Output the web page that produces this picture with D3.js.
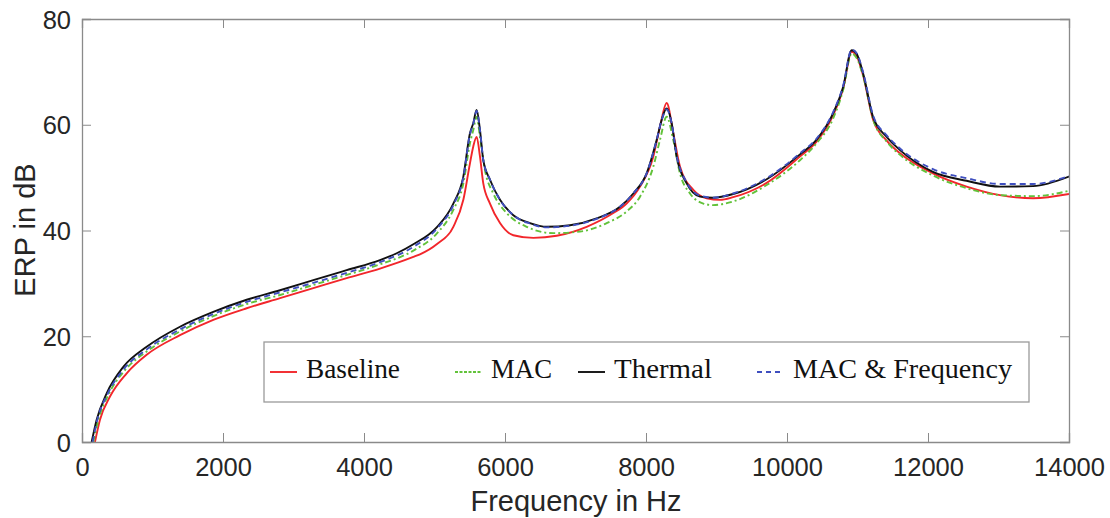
<!DOCTYPE html>
<html lang="en">
<head>
  <meta charset="UTF-8" />
  <title>ERP vs Frequency</title>
  <script src="https://d3js.org/d3.v7.min.js"></script>
  <style>
    body {
      margin: 0;
      background: #fff;
    }
    svg {
      display: block;
    }
    .tick-label {
      font-family: 'Liberation Sans', Arial, sans-serif;
      font-size: 25.5px;
      fill: #262626;
    }
    .axis-title {
      font-family: 'Liberation Sans', Arial, sans-serif;
      font-size: 29px;
      fill: #262626;
    }
    .legend-text {
      font-family: 'Liberation Serif', 'Times New Roman', serif;
      font-size: 27px;
      fill: #111;
    }
  </style>
</head>
<body>
  <svg id="chart" width="1110" height="518"></svg>

  <script>
    // Axis ticks
    const xTicks = [0, 2000, 4000, 6000, 8000, 10000, 12000, 14000];
    const yTicks = [0, 20, 40, 60, 80];

    // Series (Hz, dB)
    const baselineFreq = [184, 255, 397, 634, 917, 1390, 1862, 2336, 2809, 3281, 3754, 4227, 4700, 4794, 5031, 5267, 5409, 5503, 5550, 5598, 5645, 5692, 5787, 5929, 6118, 6402, 6733, 7158, 7536, 7725, 7915, 8104, 8198, 8293, 8387, 8482, 8671, 8860, 9049, 9236, 9712, 10184, 10420, 10655, 10797, 10917, 10988, 11078, 11220, 11414, 11603, 12070, 12548, 13021, 13490, 14000];
    const baselineErp = [0, 4.2, 8.6, 13.0, 16.5, 20.2, 23.1, 25.3, 27.2, 29.1, 31.0, 32.8, 35.0, 35.5, 37.4, 40.7, 45.8, 52.7, 55.9, 57.7, 54.0, 48.9, 45.1, 41.4, 39.1, 38.6, 39.0, 40.7, 43.3, 45.1, 48.3, 54.0, 59.6, 64.1, 58.4, 52.1, 47.7, 46.1, 45.8, 46.3, 49.0, 54.0, 56.8, 61.8, 66.9, 73.8, 73.0, 69.4, 61.0, 57.0, 54.6, 50.8, 48.3, 46.7, 46.1, 46.9];

    const macFreq = [160, 232, 373, 610, 917, 1390, 1862, 2336, 2809, 3281, 3754, 4227, 4700, 5031, 5267, 5409, 5503, 5550, 5598, 5645, 5716, 5834, 6024, 6307, 6685, 7063, 7442, 7725, 7915, 8104, 8198, 8293, 8387, 8482, 8624, 8813, 8950, 9236, 9712, 10184, 10420, 10655, 10797, 10917, 10988, 11082, 11224, 11414, 11603, 12070, 12548, 13021, 13490, 14000];
    const macErp = [0, 4.2, 8.9, 13.6, 17.1, 20.9, 23.8, 26.1, 27.8, 29.7, 31.6, 33.6, 36.2, 39.4, 43.9, 48.9, 56.5, 59.0, 61.5, 57.7, 51.4, 47.0, 43.3, 40.7, 39.5, 39.8, 41.4, 43.6, 46.4, 52.1, 57.1, 61.5, 57.1, 50.8, 47.0, 45.1, 44.8, 45.5, 48.6, 53.3, 56.5, 61.2, 66.6, 73.5, 72.6, 69.1, 60.9, 56.8, 54.3, 50.4, 48.0, 46.7, 46.5, 47.5];

    const thermalFreq = [137, 208, 350, 586, 917, 1390, 1862, 2336, 2809, 3281, 3754, 4227, 4464, 4700, 5031, 5267, 5409, 5503, 5550, 5598, 5645, 5692, 5787, 5929, 6118, 6354, 6591, 6922, 7300, 7631, 7820, 8009, 8151, 8222, 8293, 8364, 8435, 8577, 8766, 8950, 9236, 9712, 10184, 10420, 10655, 10797, 10917, 10988, 11078, 11220, 11414, 11603, 12070, 12548, 13021, 13490, 14000];
    const thermalErp = [0, 4.2, 9.2, 14.2, 18.0, 21.8, 24.6, 26.9, 28.7, 30.6, 32.5, 34.4, 35.7, 37.4, 40.6, 45.1, 50.2, 58.4, 60.3, 62.8, 59.0, 53.3, 49.6, 45.8, 42.9, 41.4, 40.7, 41.0, 42.3, 44.5, 47.0, 50.8, 57.1, 60.9, 63.1, 60.3, 54.0, 48.9, 46.4, 46.2, 46.9, 49.7, 54.4, 57.2, 62.2, 67.2, 74.1, 73.4, 69.8, 61.5, 57.7, 55.2, 51.1, 49.4, 48.3, 48.4, 50.2];

    const macFreqFreq = [150, 217, 360, 600, 917, 1390, 1862, 2336, 2809, 3281, 3754, 4227, 4700, 5031, 5267, 5409, 5503, 5550, 5598, 5645, 5692, 5787, 5929, 6118, 6354, 6591, 6922, 7300, 7631, 7820, 8009, 8151, 8222, 8293, 8364, 8435, 8577, 8766, 8950, 9236, 9712, 10184, 10420, 10655, 10797, 10917, 10988, 11078, 11220, 11414, 11603, 12070, 12548, 13021, 13490, 14000];
    const macFreqErp = [0, 4.2, 9.0, 13.9, 17.5, 21.3, 24.2, 26.5, 28.3, 30.1, 32.0, 34.0, 36.9, 40.3, 44.8, 50.0, 58.2, 60.2, 62.6, 59.0, 53.3, 49.6, 45.8, 42.9, 41.3, 40.6, 40.9, 42.2, 44.5, 47.0, 50.8, 57.1, 60.9, 62.9, 60.3, 54.2, 49.1, 46.6, 46.2, 47.0, 49.9, 54.6, 57.4, 62.4, 67.4, 74.2, 73.5, 70.0, 61.8, 58.0, 55.5, 51.6, 49.9, 48.8, 48.8, 50.3];

    const seriesNames = ["Baseline", "MAC", "Thermal", "MAC & Frequency"];

    // Drawing styles, in the same order as seriesNames
    const styles = [
      { color: "#f2262b", dash: null, legendDash: null },
      { color: "#62c23a", dash: "6,3,2,3", legendDash: "3,1.5" },
      { color: "#111111", dash: null, legendDash: null },
      { color: "#3f4fbf", dash: "6,4", legendDash: "5,4" }
    ];

    const svg = d3.select("#chart");
    const margin = { left: 82, top: 19, right: 1110 - 1069, bottom: 518 - 442 };
    const width = 1110 - margin.left - margin.right;
    const height = 518 - margin.top - margin.bottom;

    const x = d3.scaleLinear().domain([0, 14000]).range([margin.left, margin.left + width]);
    const y = d3.scaleLinear().domain([0, 80]).range([margin.top + height, margin.top]);

    svg.append("clipPath").attr("id", "plotClip")
      .append("rect")
      .attr("x", margin.left).attr("y", margin.top)
      .attr("width", width).attr("height", height);

    // Curves
    const allSeries = [
      d3.zip(baselineFreq, baselineErp),
      d3.zip(macFreq, macErp),
      d3.zip(thermalFreq, thermalErp),
      d3.zip(macFreqFreq, macFreqErp)
    ];

    const line = d3.line()
      .x(d => x(d[0]))
      .y(d => y(d[1]))
      .curve(d3.curveMonotoneX);

    svg.append("g").attr("clip-path", "url(#plotClip)")
      .selectAll("path")
      .data(allSeries)
      .enter()
      .append("path")
      .attr("d", line)
      .attr("fill", "none")
      .attr("stroke", (d, i) => styles[i].color)
      .attr("stroke-width", 1.9)
      .attr("stroke-dasharray", (d, i) => styles[i].dash);

    // Axes: MATLAB-style box with inward ticks on all four sides
    const axisColor = "#8a8a8a";
    const tickLen = 9;

    const bottomAxis = svg.append("g")
      .attr("transform", `translate(0,${margin.top + height})`)
      .call(d3.axisBottom(x).tickValues(xTicks).tickSize(-tickLen).tickPadding(16).tickFormat(d3.format("d")));
    const topAxis = svg.append("g")
      .attr("transform", `translate(0,${margin.top})`)
      .call(d3.axisTop(x).tickValues(xTicks).tickSize(-tickLen).tickFormat(""));
    const leftAxis = svg.append("g")
      .attr("transform", `translate(${margin.left},0)`)
      .call(d3.axisLeft(y).tickValues(yTicks).tickSize(-tickLen).tickPadding(11));
    const rightAxis = svg.append("g")
      .attr("transform", `translate(${margin.left + width},0)`)
      .call(d3.axisRight(y).tickValues(yTicks).tickSize(-tickLen).tickFormat(""));

    [bottomAxis, topAxis, leftAxis, rightAxis].forEach(g => {
      g.select(".domain").attr("stroke", axisColor).attr("stroke-width", 1.3);
      g.selectAll(".tick line").attr("stroke", axisColor).attr("stroke-width", 1);
      g.selectAll(".tick text").attr("class", "tick-label").attr("font-size", null).attr("font-family", null).attr("fill", null);
    });
    bottomAxis.selectAll(".tick text").attr("dy", "0.71em");
    leftAxis.selectAll(".tick text").attr("dy", "0.36em");

    // Axis titles
    svg.append("text")
      .attr("class", "axis-title")
      .attr("x", 576)
      .attr("y", 511)
      .attr("text-anchor", "middle")
      .text("Frequency in Hz");

    svg.append("text")
      .attr("class", "axis-title")
      .attr("transform", `translate(35,230) rotate(-90)`)
      .attr("text-anchor", "middle")
      .text("ERP in dB");

    // Legend
    const legendBox = { x: 264, y: 342, w: 765, h: 60 };
    const legendLineX = [270, 455, 578, 757];
    const legendTextWidth = [94, 61, 98, 219];
    const legendLineLen = 27;

    const legend = svg.append("g");
    legend.append("rect")
      .attr("x", legendBox.x).attr("y", legendBox.y)
      .attr("width", legendBox.w).attr("height", legendBox.h)
      .attr("fill", "#fff")
      .attr("stroke", "#9a9a9a")
      .attr("stroke-width", 1.3);

    seriesNames.forEach((name, i) => {
      legend.append("line")
        .attr("x1", legendLineX[i]).attr("x2", legendLineX[i] + legendLineLen)
        .attr("y1", 372).attr("y2", 372)
        .attr("stroke", styles[i].color)
        .attr("stroke-width", 1.9)
        .attr("stroke-dasharray", styles[i].legendDash);
      legend.append("text")
        .attr("class", "legend-text")
        .attr("x", legendLineX[i] + legendLineLen + 9)
        .attr("y", 378)
        .attr("textLength", legendTextWidth[i])
        .attr("lengthAdjust", "spacingAndGlyphs")
        .text(name);
    });
  </script>
</body>
</html>
